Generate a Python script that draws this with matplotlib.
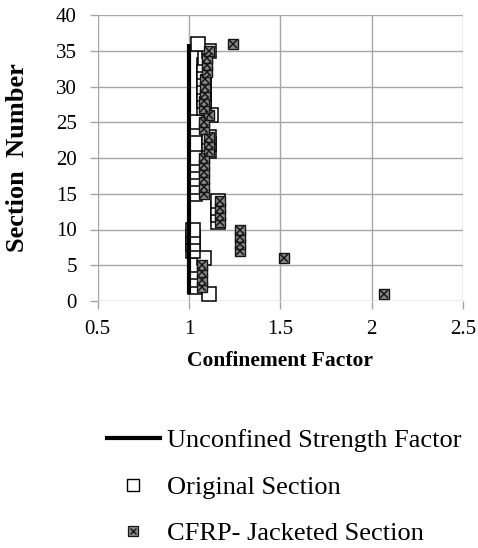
import matplotlib
matplotlib.use("Agg")
import matplotlib.pyplot as plt
from matplotlib.lines import Line2D
from matplotlib.legend_handler import HandlerTuple

plt.rcParams['font.family'] = ['Liberation Serif', 'DejaVu Serif']

# section numbers along the pier height
sections = [1, 2, 3, 4, 5, 6, 7, 8, 9, 10, 11, 12, 13, 14, 15, 16, 17, 18,
            19, 20, 21, 22, 23, 24, 25, 26, 27, 28, 29, 30, 31, 32, 33, 34, 35, 36]
unconfined = [1.0] * 36
original = [1.11, 1.03, 1.03, 1.03, 1.03, 1.08, 1.02, 1.02, 1.02, 1.02,
            1.16, 1.16, 1.16, 1.16, 1.03, 1.03, 1.03, 1.03, 1.03, 1.03,
            1.11, 1.11, 1.11, 1.03, 1.03, 1.12, 1.08, 1.08, 1.08, 1.08,
            1.08, 1.08, 1.08, 1.09, 1.11, 1.05]
cfrp = [2.07, 1.07, 1.07, 1.07, 1.07, 1.52, 1.28, 1.28, 1.28, 1.28,
        1.17, 1.17, 1.17, 1.17, 1.08, 1.08, 1.08, 1.08, 1.08, 1.08,
        1.11, 1.11, 1.11, 1.08, 1.08, 1.11, 1.08, 1.08, 1.09, 1.09,
        1.09, 1.10, 1.10, 1.10, 1.11, 1.24]

xticks = [0.5, 1, 1.5, 2, 2.5]
xtick_labels = ['0.5', '1', '1.5', '2', '2.5']
yticks = [0, 5, 10, 15, 20, 25, 30, 35, 40]

fig = plt.figure(figsize=(4.78, 5.48), dpi=100, facecolor='white')
ax = fig.add_axes([97.7/478, 247/548, 365.3/478, 286/548])

CF_FACE = '#8a8a8a'
CF_LINE = '#151515'

ax.plot(original, sections, ls='none', marker='s', ms=9.8, mfc='white',
        mec='black', mew=1.1, zorder=3)
ax.plot(cfrp, sections, ls='none', marker='s', ms=7.2, mfc=CF_FACE,
        mec=CF_LINE, mew=1.0, zorder=4)
ax.plot(cfrp, sections, ls='none', marker='x', ms=5.6, mec=CF_LINE,
        mew=1.1, zorder=5)
ax.plot(unconfined, sections, color='black', lw=3.0, zorder=6,
        solid_capstyle='butt')

ax.set_xlim(0.5, 2.5)
ax.set_ylim(0, 40)
ax.set_xticks(xticks)
ax.set_xticklabels(xtick_labels)
ax.set_yticks(yticks)
ax.grid(True, color='#a6a6a6', lw=1.0, zorder=0)
ax.set_axisbelow(True)
for sp in ax.spines.values():
    sp.set_visible(False)
ax.tick_params(axis='both', length=6, width=1.0, color='#a6a6a6',
               labelsize=15, pad=8)
ax.tick_params(axis='y', pad=9)

ax.set_xlabel('Confinement Factor', fontsize=15.5, fontweight='bold', labelpad=8)
ax.set_ylabel('Section  Number', fontsize=19, fontweight='bold', labelpad=19)

h_line = Line2D([], [], color='black', lw=3.0)
h_orig = Line2D([], [], ls='none', marker='s', ms=8.0, mfc='white', mec='black', mew=1.0)
h_cf1 = Line2D([], [], ls='none', marker='s', ms=6.5, mfc=CF_FACE, mec=CF_LINE, mew=0.9)
h_cf2 = Line2D([], [], ls='none', marker='x', ms=5.0, mec=CF_LINE, mew=1.0)
fig.legend([h_line, h_orig, (h_cf1, h_cf2)],
           ['Unconfined Strength Factor', 'Original Section', 'CFRP- Jacketed Section'],
           handler_map={tuple: HandlerTuple(ndivide=1, pad=0)},
           loc='upper left', bbox_to_anchor=(107/478, 1 - 429/548),
           frameon=False, fontsize=19, handlelength=2.0, handletextpad=0.27,
           labelspacing=0.87, borderpad=0, borderaxespad=0)

fig.savefig('out.png', dpi=100, facecolor='white')
